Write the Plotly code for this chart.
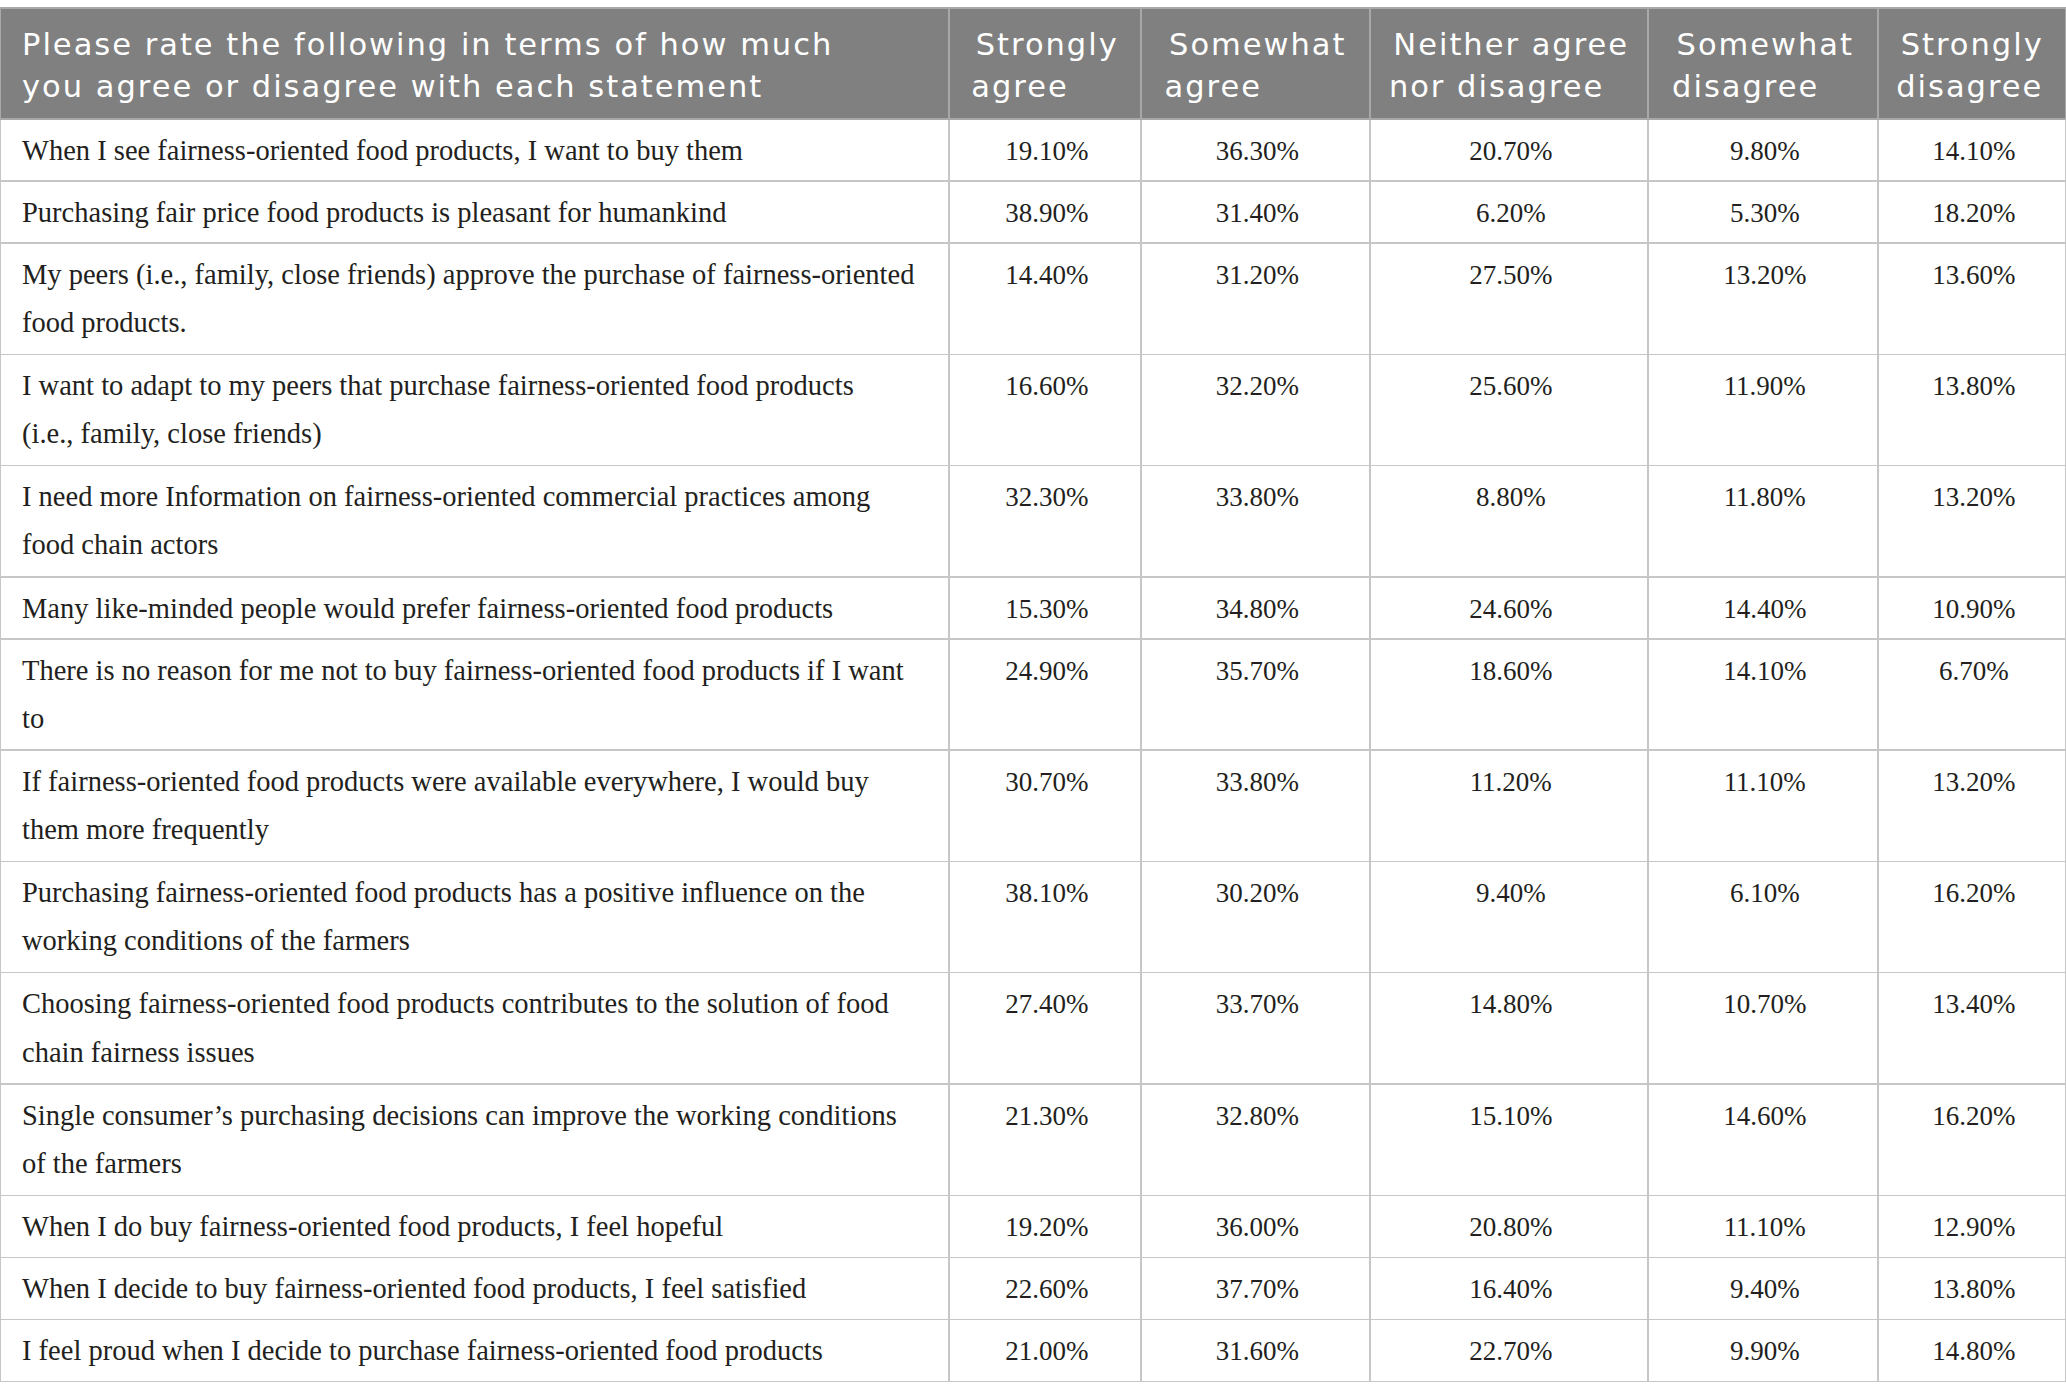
import plotly.graph_objects as go

# survey table: share of respondents per answer

statements = [
    "When I see fairness-oriented food products, I want to buy them",
    "Purchasing fair price food products is pleasant for humankind",
    "My peers (i.e., family, close friends) approve the purchase of fairness-oriented\nfood products.",
    "I want to adapt to my peers that purchase fairness-oriented food products\n(i.e., family, close friends)",
    "I need more Information on fairness-oriented commercial practices among\nfood chain actors",
    "Many like-minded people would prefer fairness-oriented food products",
    "There is no reason for me not to buy fairness-oriented food products if I want\nto",
    "If fairness-oriented food products were available everywhere, I would buy\nthem more frequently",
    "Purchasing fairness-oriented food products has a positive influence on the\nworking conditions of the farmers",
    "Choosing fairness-oriented food products contributes to the solution of food\nchain fairness issues",
    "Single consumer\u2019s purchasing decisions can improve the working conditions\nof the farmers",
    "When I do buy fairness-oriented food products, I feel hopeful",
    "When I decide to buy fairness-oriented food products, I feel satisfied",
    "I feel proud when I decide to purchase fairness-oriented food products",
]

strongly_agree = [19.1, 38.9, 14.4, 16.6, 32.3, 15.3, 24.9, 30.7, 38.1, 27.4, 21.3, 19.2, 22.6, 21.0]
somewhat_agree = [36.3, 31.4, 31.2, 32.2, 33.8, 34.8, 35.7, 33.8, 30.2, 33.7, 32.8, 36.0, 37.7, 31.6]
neither = [20.7, 6.2, 27.5, 25.6, 8.8, 24.6, 18.6, 11.2, 9.4, 14.8, 15.1, 20.8, 16.4, 22.7]
somewhat_disagree = [9.8, 5.3, 13.2, 11.9, 11.8, 14.4, 14.1, 11.1, 6.1, 10.7, 14.6, 11.1, 9.4, 9.9]
strongly_disagree = [14.1, 18.2, 13.6, 13.8, 13.2, 10.9, 6.7, 13.2, 16.2, 13.4, 16.2, 12.9, 13.8, 14.8]

headers = [
    "Please rate the following in terms of how much\nyou agree or disagree with each statement",
    "Strongly\nagree",
    "Somewhat\nagree",
    "Neither agree\nnor disagree",
    "Somewhat\ndisagree",
    "Strongly\ndisagree",
]

EMSP = "\u2003"
NBSP = "\u00a0"


def spacer(size, shift, ch):
    return '<span style="font-size:%dpx;baseline-shift:%.1fpx">%s</span>' % (size, shift, ch)


def wrap(text, size, top_shift, bot_shift, indent, extra=""):
    # glyphs drawn at `size`, line pitch follows the cell font;
    # tiny shifted spacers set the top gap and the row height
    lines = text.split("\n")
    out = []
    for i, ln in enumerate(lines):
        pre = EMSP if indent else NBSP
        s = ""
        if i == 0:
            s += spacer(14, top_shift, pre)
        elif indent:
            s += spacer(14, 0, pre)
        s += '<span style="font-size:%.1fpx%s">%s</span>' % (size, extra, ln)
        if i == len(lines) - 1 and len(lines) > 1:
            s += spacer(14, bot_shift, NBSP)
        out.append(s)
    if len(lines) == 1:
        out.append("")  # explicit break stops plotly re-wrapping the markup
    return "<br>".join(out)


def pct(v):
    return "%.2f%%" % v


head_vals = [wrap(h, 30.5, 26.4, -9, i == 0, ";letter-spacing:2px") for i, h in enumerate(headers)]

col_text = [wrap(t, 28.5, 20.7, -11.5, True) for t in statements]
value_cols = [strongly_agree, somewhat_agree, neither, somewhat_disagree, strongly_disagree]
cell_vals = [col_text] + [[wrap(pct(v), 27, 20.7, -11.5, False) for v in col] for col in value_cols]

fig = go.Figure(go.Table(
    columnwidth=[949, 192, 229, 278, 230, 188],
    domain=dict(x=[0, 1], y=[0, 1 - 8 / 1396]),
    header=dict(
        values=head_vals,
        fill_color="#808080",
        line=dict(color="#a8a8a8", width=1.3),
        align=["left", "center", "center", "center", "center", "center"],
        font=dict(family="DejaVu Sans", size=32, color="white"),
        height=111,
    ),
    cells=dict(
        values=cell_vals,
        fill_color="white",
        line=dict(color="#c6c6c6", width=1.3),
        align=["left", "center", "center", "center", "center", "center"],
        font=dict(family="Liberation Serif", size=37, color="#231f20"),
        height=62,
    ),
))

fig.update_layout(
    width=2066,
    height=1396,
    margin=dict(l=0, r=0, t=0, b=0),
    paper_bgcolor="white",
)

# drop the default page margin so the figure sits at the window corner
fig.write_html("out.html", config={"displayModeBar": False},
               post_script="document.body.style.margin = '0px';")
